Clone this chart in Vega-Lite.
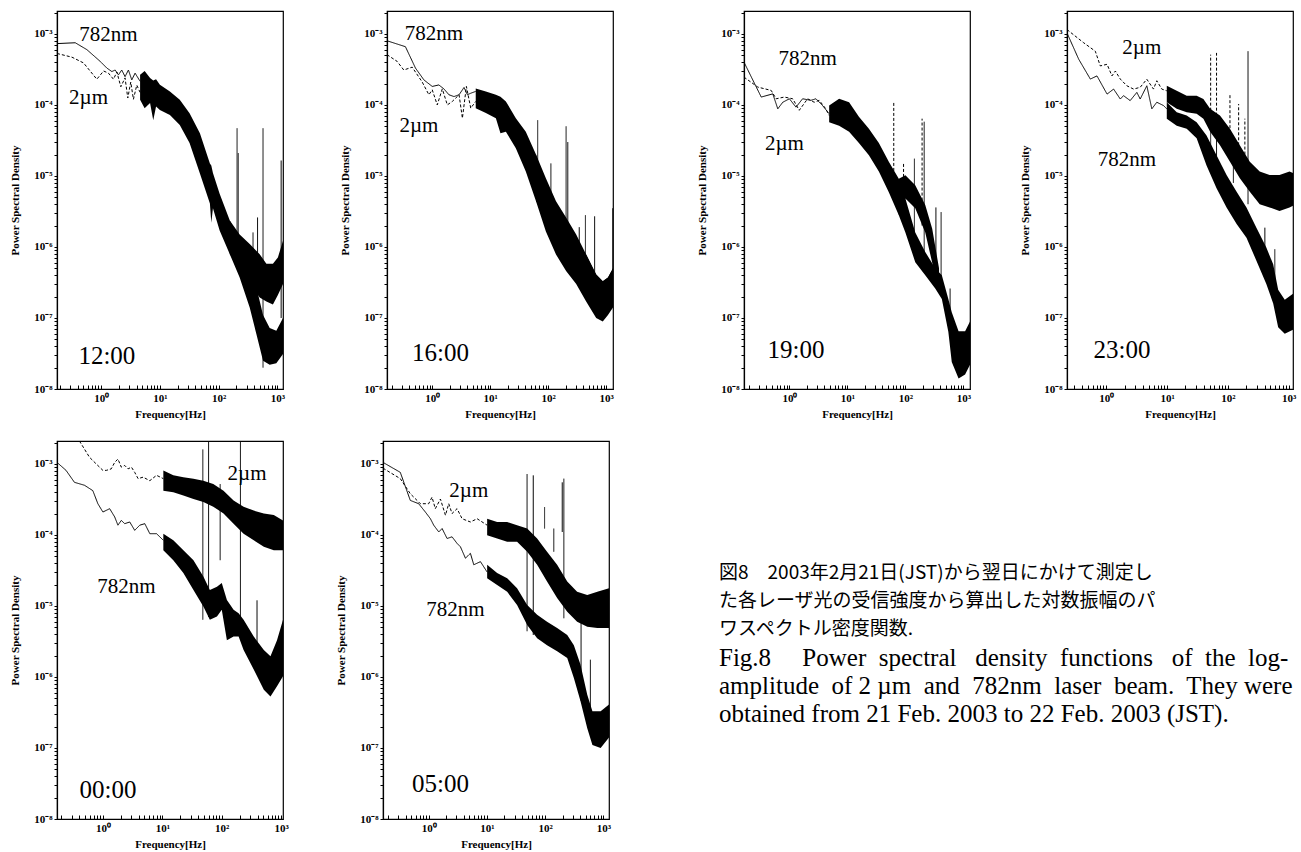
{
"$schema": "https://vega.github.io/schema/vega-lite/v6.json",
"background": "white",
"padding": {"left": 9, "top": 5, "right": 2, "bottom": 2},
"config": {
  "font": "Liberation Serif",
  "view": {"stroke": "black", "strokeWidth": 1.2},
  "axis": {"grid": false, "domainColor": "black", "domainWidth": 1.2, "tickColor": "black", "tickWidth": 1,
    "labelColor": "black", "labelFont": "Liberation Serif", "labelFontWeight": "bold", "labelFontSize": 11,
    "titleColor": "black", "titleFont": "Liberation Serif", "titleFontWeight": "bold", "titleFontSize": 11,
    "labelFlush": false, "labelOverlap": false},
  "axisX": {"tickSize": -4, "labelPadding": 7, "titlePadding": 5},
  "axisY": {"tickSize": 3, "labelPadding": 2, "titlePadding": 13}
},
"datasets": {
"lines": [
{"p":"12:00","s":"782nm","f":0.177,"psd":7.3e-4},{"p":"12:00","s":"782nm","f":0.362,"psd":7.5e-4},{"p":"12:00","s":"782nm","f":0.571,"psd":6.0e-4},{"p":"12:00","s":"782nm","f":0.962,"psd":4.1e-4},{"p":"12:00","s":"782nm","f":1.25,"psd":3.3e-4},{"p":"12:00","s":"782nm","f":1.52,"psd":2.95e-4},{"p":"12:00","s":"782nm","f":1.73,"psd":3.1e-4},{"p":"12:00","s":"782nm","f":1.97,"psd":2.65e-4},{"p":"12:00","s":"782nm","f":2.24,"psd":3.1e-4},{"p":"12:00","s":"782nm","f":2.55,"psd":2.5e-4},{"p":"12:00","s":"782nm","f":2.91,"psd":3.1e-4},{"p":"12:00","s":"782nm","f":3.32,"psd":2.25e-4},{"p":"12:00","s":"782nm","f":3.78,"psd":2.8e-4},{"p":"12:00","s":"782nm","f":4.6,"psd":2.15e-4},
{"p":"12:00","s":"2µm","f":0.177,"psd":5.3e-4},{"p":"12:00","s":"2µm","f":0.318,"psd":4.7e-4},{"p":"12:00","s":"2µm","f":0.501,"psd":3.9e-4},{"p":"12:00","s":"2µm","f":0.843,"psd":2.3e-4},{"p":"12:00","s":"2µm","f":1.1,"psd":3.0e-4},{"p":"12:00","s":"2µm","f":1.33,"psd":2.8e-4},{"p":"12:00","s":"2µm","f":1.62,"psd":2.3e-4},{"p":"12:00","s":"2µm","f":1.85,"psd":2.9e-4},{"p":"12:00","s":"2µm","f":2.16,"psd":1.8e-4},{"p":"12:00","s":"2µm","f":2.55,"psd":2.4e-4},{"p":"12:00","s":"2µm","f":2.84,"psd":1.25e-4},{"p":"12:00","s":"2µm","f":3.19,"psd":2.1e-4},{"p":"12:00","s":"2µm","f":3.54,"psd":1.2e-4},{"p":"12:00","s":"2µm","f":4.04,"psd":1.9e-4},{"p":"12:00","s":"2µm","f":4.6,"psd":1.5e-4},
{"p":"16:00","s":"782nm","f":0.166,"psd":8.0e-4},{"p":"16:00","s":"782nm","f":0.345,"psd":6.6e-4},{"p":"16:00","s":"782nm","f":0.514,"psd":3.3e-4},{"p":"16:00","s":"782nm","f":0.718,"psd":2.25e-4},{"p":"16:00","s":"782nm","f":1.0,"psd":1.82e-4},{"p":"16:00","s":"782nm","f":1.3,"psd":1.91e-4},{"p":"16:00","s":"782nm","f":1.59,"psd":1.68e-4},{"p":"16:00","s":"782nm","f":1.94,"psd":1.39e-4},{"p":"16:00","s":"782nm","f":2.37,"psd":1.31e-4},{"p":"16:00","s":"782nm","f":2.9,"psd":1.39e-4},{"p":"16:00","s":"782nm","f":3.53,"psd":1.76e-4},{"p":"16:00","s":"782nm","f":4.04,"psd":1.39e-4},{"p":"16:00","s":"782nm","f":4.61,"psd":1.46e-4},{"p":"16:00","s":"782nm","f":5.62,"psd":1.55e-4},
{"p":"16:00","s":"2µm","f":0.166,"psd":5.1e-4},{"p":"16:00","s":"2µm","f":0.248,"psd":4.1e-4},{"p":"16:00","s":"2µm","f":0.323,"psd":3.1e-4},{"p":"16:00","s":"2µm","f":0.451,"psd":3.4e-4},{"p":"16:00","s":"2µm","f":0.671,"psd":2.1e-4},{"p":"16:00","s":"2µm","f":0.875,"psd":1.39e-4},{"p":"16:00","s":"2µm","f":1.0,"psd":1.63e-4},{"p":"16:00","s":"2µm","f":1.22,"psd":1.0e-4},{"p":"16:00","s":"2µm","f":1.49,"psd":1.68e-4},{"p":"16:00","s":"2µm","f":1.82,"psd":1.0e-4},{"p":"16:00","s":"2µm","f":2.22,"psd":1.12e-4},{"p":"16:00","s":"2µm","f":2.9,"psd":1.39e-4},{"p":"16:00","s":"2µm","f":3.31,"psd":6.5e-5},{"p":"16:00","s":"2µm","f":3.88,"psd":1.82e-4},{"p":"16:00","s":"2µm","f":4.61,"psd":9.0e-5},{"p":"16:00","s":"2µm","f":5.62,"psd":1.12e-4},
{"p":"19:00","s":"782nm","f":0.165,"psd":4.0e-4},{"p":"19:00","s":"782nm","f":0.327,"psd":1.29e-4},{"p":"19:00","s":"782nm","f":0.518,"psd":1.43e-4},{"p":"19:00","s":"782nm","f":0.631,"psd":8.8e-5},{"p":"19:00","s":"782nm","f":0.769,"psd":1.09e-4},{"p":"19:00","s":"782nm","f":1.0,"psd":1.22e-4},{"p":"19:00","s":"782nm","f":1.3,"psd":9.3e-5},{"p":"19:00","s":"782nm","f":1.69,"psd":1.22e-4},{"p":"19:00","s":"782nm","f":2.35,"psd":1.16e-4},{"p":"19:00","s":"782nm","f":2.87,"psd":1.22e-4},{"p":"19:00","s":"782nm","f":3.73,"psd":9.8e-5},{"p":"19:00","s":"782nm","f":4.85,"psd":7.5e-5},
{"p":"19:00","s":"2µm","f":0.165,"psd":2.46e-4},{"p":"19:00","s":"2µm","f":0.286,"psd":1.78e-4},{"p":"19:00","s":"2µm","f":0.485,"psd":1.6e-4},{"p":"19:00","s":"2µm","f":0.591,"psd":1.22e-4},{"p":"19:00","s":"2µm","f":0.82,"psd":1.29e-4},{"p":"19:00","s":"2µm","f":1.14,"psd":1.22e-4},{"p":"19:00","s":"2µm","f":1.48,"psd":8.4e-5},{"p":"19:00","s":"2µm","f":2.06,"psd":1.22e-4},{"p":"19:00","s":"2µm","f":2.68,"psd":1.09e-4},{"p":"19:00","s":"2µm","f":3.27,"psd":1.16e-4},{"p":"19:00","s":"2µm","f":4.25,"psd":8.8e-5},{"p":"19:00","s":"2µm","f":4.85,"psd":7.1e-5},
{"p":"23:00","s":"2µm","f":0.226,"psd":1.15e-3},{"p":"23:00","s":"2µm","f":0.425,"psd":7.5e-4},{"p":"23:00","s":"2µm","f":0.66,"psd":5.7e-4},{"p":"23:00","s":"2µm","f":0.797,"psd":3.54e-4},{"p":"23:00","s":"2µm","f":1.03,"psd":3.73e-4},{"p":"23:00","s":"2µm","f":1.24,"psd":2.56e-4},{"p":"23:00","s":"2µm","f":1.41,"psd":3.0e-4},{"p":"23:00","s":"2µm","f":1.7,"psd":2.31e-4},{"p":"23:00","s":"2µm","f":2.18,"psd":1.86e-4},{"p":"23:00","s":"2µm","f":2.81,"psd":1.67e-4},{"p":"23:00","s":"2µm","f":3.61,"psd":1.77e-4},{"p":"23:00","s":"2µm","f":4.64,"psd":2.3e-4},{"p":"23:00","s":"2µm","f":5.97,"psd":1.67e-4},{"p":"23:00","s":"2µm","f":6.77,"psd":2.19e-4},{"p":"23:00","s":"2µm","f":8.18,"psd":1.67e-4},{"p":"23:00","s":"2µm","f":9.88,"psd":1.58e-4},
{"p":"23:00","s":"782nm","f":0.226,"psd":1.03e-3},{"p":"23:00","s":"782nm","f":0.352,"psd":4.4e-4},{"p":"23:00","s":"782nm","f":0.547,"psd":2.31e-4},{"p":"23:00","s":"782nm","f":0.703,"psd":2.56e-4},{"p":"23:00","s":"782nm","f":1.03,"psd":1.42e-4},{"p":"23:00","s":"782nm","f":1.32,"psd":1.67e-4},{"p":"23:00","s":"782nm","f":1.7,"psd":1.21e-4},{"p":"23:00","s":"782nm","f":1.92,"psd":1.35e-4},{"p":"23:00","s":"782nm","f":2.47,"psd":1.15e-4},{"p":"23:00","s":"782nm","f":3.18,"psd":1.5e-4},{"p":"23:00","s":"782nm","f":3.61,"psd":1.21e-4},{"p":"23:00","s":"782nm","f":4.64,"psd":1.86e-4},{"p":"23:00","s":"782nm","f":5.61,"psd":8.8e-5},{"p":"23:00","s":"782nm","f":6.77,"psd":1.09e-4},{"p":"23:00","s":"782nm","f":8.71,"psd":9.8e-5},{"p":"23:00","s":"782nm","f":9.88,"psd":8.8e-5},
{"p":"00:00","s":"2µm","f":0.169,"psd":4.0e-3},{"p":"00:00","s":"2µm","f":0.403,"psd":2.1e-3},{"p":"00:00","s":"2µm","f":0.595,"psd":1.24e-3},{"p":"00:00","s":"2µm","f":0.771,"psd":1.0e-3},{"p":"00:00","s":"2µm","f":1.0,"psd":8.1e-4},{"p":"00:00","s":"2µm","f":1.14,"psd":8.1e-4},{"p":"00:00","s":"2µm","f":1.38,"psd":8.5e-4},{"p":"00:00","s":"2µm","f":1.58,"psd":1.05e-3},{"p":"00:00","s":"2µm","f":1.79,"psd":1.17e-3},{"p":"00:00","s":"2µm","f":2.04,"psd":9.0e-4},{"p":"00:00","s":"2µm","f":2.33,"psd":9.5e-4},{"p":"00:00","s":"2µm","f":2.65,"psd":8.5e-4},{"p":"00:00","s":"2µm","f":3.02,"psd":9.0e-4},{"p":"00:00","s":"2µm","f":3.43,"psd":7.6e-4},{"p":"00:00","s":"2µm","f":3.91,"psd":6.2e-4},{"p":"00:00","s":"2µm","f":4.75,"psd":6.5e-4},{"p":"00:00","s":"2µm","f":6.16,"psd":5.8e-4},{"p":"00:00","s":"2µm","f":7.99,"psd":6.9e-4},{"p":"00:00","s":"2µm","f":10.4,"psd":6.2e-4},
{"p":"00:00","s":"782nm","f":0.169,"psd":1.05e-3},{"p":"00:00","s":"782nm","f":0.24,"psd":8.1e-4},{"p":"00:00","s":"782nm","f":0.332,"psd":5.5e-4},{"p":"00:00","s":"782nm","f":0.49,"psd":5.0e-4},{"p":"00:00","s":"782nm","f":0.677,"psd":4.2e-4},{"p":"00:00","s":"782nm","f":0.823,"psd":2.75e-4},{"p":"00:00","s":"782nm","f":1.0,"psd":2.1e-4},{"p":"00:00","s":"782nm","f":1.3,"psd":2.34e-4},{"p":"00:00","s":"782nm","f":1.58,"psd":1.79e-4},{"p":"00:00","s":"782nm","f":1.79,"psd":1.37e-4},{"p":"00:00","s":"782nm","f":2.04,"psd":1.6e-4},{"p":"00:00","s":"782nm","f":2.33,"psd":1.44e-4},{"p":"00:00","s":"782nm","f":2.83,"psd":1.52e-4},{"p":"00:00","s":"782nm","f":3.43,"psd":1.16e-4},{"p":"00:00","s":"782nm","f":4.17,"psd":1.37e-4},{"p":"00:00","s":"782nm","f":5.07,"psd":1.44e-4},{"p":"00:00","s":"782nm","f":6.16,"psd":1.04e-4},{"p":"00:00","s":"782nm","f":7.99,"psd":1.04e-4},{"p":"00:00","s":"782nm","f":10.4,"psd":8.4e-5},
{"p":"05:00","s":"782nm","f":0.164,"psd":1.05e-3},{"p":"05:00","s":"782nm","f":0.325,"psd":7.6e-4},{"p":"05:00","s":"782nm","f":0.483,"psd":3.06e-4},{"p":"05:00","s":"782nm","f":0.673,"psd":2.75e-4},{"p":"05:00","s":"782nm","f":0.876,"psd":2.1e-4},{"p":"05:00","s":"782nm","f":1.07,"psd":1.69e-4},{"p":"05:00","s":"782nm","f":1.22,"psd":1.37e-4},{"p":"05:00","s":"782nm","f":1.49,"psd":1.1e-4},{"p":"05:00","s":"782nm","f":1.7,"psd":1.23e-4},{"p":"05:00","s":"782nm","f":2.07,"psd":8.9e-5},{"p":"05:00","s":"782nm","f":2.52,"psd":9.4e-5},{"p":"05:00","s":"782nm","f":3.07,"psd":7.6e-5},{"p":"05:00","s":"782nm","f":3.51,"psd":6.8e-5},{"p":"05:00","s":"782nm","f":4.28,"psd":4.7e-5},{"p":"05:00","s":"782nm","f":5.21,"psd":5.5e-5},{"p":"05:00","s":"782nm","f":5.95,"psd":3.8e-5},{"p":"05:00","s":"782nm","f":7.75,"psd":4.2e-5},{"p":"05:00","s":"782nm","f":10.1,"psd":3.0e-5},
{"p":"05:00","s":"2µm","f":0.164,"psd":8.7e-4},{"p":"05:00","s":"2µm","f":0.325,"psd":6.2e-4},{"p":"05:00","s":"2µm","f":0.483,"psd":3.8e-4},{"p":"05:00","s":"2µm","f":0.719,"psd":2.75e-4},{"p":"05:00","s":"2µm","f":1.0,"psd":2.75e-4},{"p":"05:00","s":"2µm","f":1.14,"psd":3.4e-4},{"p":"05:00","s":"2µm","f":1.3,"psd":2.34e-4},{"p":"05:00","s":"2µm","f":1.59,"psd":3.2e-4},{"p":"05:00","s":"2µm","f":1.94,"psd":1.89e-4},{"p":"05:00","s":"2µm","f":2.21,"psd":2.75e-4},{"p":"05:00","s":"2µm","f":2.52,"psd":2.0e-4},{"p":"05:00","s":"2µm","f":3.07,"psd":2.34e-4},{"p":"05:00","s":"2µm","f":3.75,"psd":1.69e-4},{"p":"05:00","s":"2µm","f":5.21,"psd":1.52e-4},{"p":"05:00","s":"2µm","f":6.79,"psd":1.69e-4},{"p":"05:00","s":"2µm","f":10.1,"psd":1.37e-4}
],
"bands": [
{"p":"12:00","s":"782nm","f":4.6,"psd":1.18e-4,"psd2":2.66e-4},{"p":"12:00","s":"782nm","f":5.5,"psd":9.0e-5,"psd2":3.0e-4},{"p":"12:00","s":"782nm","f":6.8,"psd":1.06e-4,"psd2":2.4e-4},{"p":"12:00","s":"782nm","f":7.7,"psd":6.1e-5,"psd2":2.2e-4},{"p":"12:00","s":"782nm","f":8.6,"psd":9.5e-5,"psd2":2.3e-4},{"p":"12:00","s":"782nm","f":10,"psd":8.5e-5,"psd2":1.92e-4},{"p":"12:00","s":"782nm","f":14.8,"psd":7.2e-5,"psd2":1.55e-4},{"p":"12:00","s":"782nm","f":21.8,"psd":5.2e-5,"psd2":1.18e-4},{"p":"12:00","s":"782nm","f":32,"psd":2.9e-5,"psd2":7.6e-5},{"p":"12:00","s":"782nm","f":48,"psd":1.08e-5,"psd2":4.0e-5},{"p":"12:00","s":"782nm","f":71,"psd":4.1e-6,"psd2":1.5e-5},{"p":"12:00","s":"782nm","f":75,"psd":2.2e-6,"psd2":1.4e-5},{"p":"12:00","s":"782nm","f":80,"psd":3.5e-6,"psd2":1.1e-5},{"p":"12:00","s":"782nm","f":104,"psd":1.7e-6,"psd2":5.6e-6},{"p":"12:00","s":"782nm","f":155,"psd":7.9e-7,"psd2":2.35e-6},{"p":"12:00","s":"782nm","f":228,"psd":3.7e-7,"psd2":1.2e-6},{"p":"12:00","s":"782nm","f":338,"psd":1.4e-7,"psd2":5.2e-7},{"p":"12:00","s":"782nm","f":440,"psd":5.9e-8,"psd2":2.7e-7},{"p":"12:00","s":"782nm","f":570,"psd":2.5e-8,"psd2":1.1e-7},{"p":"12:00","s":"782nm","f":740,"psd":2.2e-8,"psd2":7.2e-8},{"p":"12:00","s":"782nm","f":960,"psd":2.3e-8,"psd2":6.6e-8},{"p":"12:00","s":"782nm","f":1247,"psd":3.1e-8,"psd2":1.0e-7},
{"p":"12:00","s":"2µm","f":155,"psd":7.9e-7,"psd2":2.35e-6},{"p":"12:00","s":"2µm","f":228,"psd":5.2e-7,"psd2":1.5e-6},{"p":"12:00","s":"2µm","f":338,"psd":3.0e-7,"psd2":1.1e-6},{"p":"12:00","s":"2µm","f":500,"psd":1.95e-7,"psd2":7.9e-7},{"p":"12:00","s":"2µm","f":650,"psd":1.7e-7,"psd2":5.8e-7},{"p":"12:00","s":"2µm","f":840,"psd":1.55e-7,"psd2":5.8e-7},{"p":"12:00","s":"2µm","f":1020,"psd":2.1e-7,"psd2":7.1e-7},{"p":"12:00","s":"2µm","f":1247,"psd":3.0e-7,"psd2":1.22e-6},
{"p":"16:00","s":"782nm","f":5.62,"psd":9e-5,"psd2":1.7e-4},{"p":"16:00","s":"782nm","f":8.4,"psd":7.7e-5,"psd2":1.55e-4},{"p":"16:00","s":"782nm","f":12.5,"psd":6.5e-5,"psd2":1.39e-4},{"p":"16:00","s":"782nm","f":15,"psd":4.0e-5,"psd2":1.3e-4},{"p":"16:00","s":"782nm","f":18.6,"psd":4.2e-5,"psd2":1.12e-4},{"p":"16:00","s":"782nm","f":27.6,"psd":2.45e-5,"psd2":6.5e-5},{"p":"16:00","s":"782nm","f":41,"psd":1.15e-5,"psd2":4.2e-5},{"p":"16:00","s":"782nm","f":61.5,"psd":4.4e-6,"psd2":2.0e-5},{"p":"16:00","s":"782nm","f":91,"psd":1.65e-6,"psd2":7e-6},{"p":"16:00","s":"782nm","f":136,"psd":7.8e-7,"psd2":3e-6},{"p":"16:00","s":"782nm","f":203,"psd":4.6e-7,"psd2":1.6e-6},{"p":"16:00","s":"782nm","f":303,"psd":3e-7,"psd2":1.1e-6},{"p":"16:00","s":"782nm","f":450,"psd":1.7e-7,"psd2":7.8e-7},{"p":"16:00","s":"782nm","f":670,"psd":1.0e-7,"psd2":4.1e-7},{"p":"16:00","s":"782nm","f":870,"psd":8.9e-8,"psd2":3.3e-7},{"p":"16:00","s":"782nm","f":1070,"psd":1.1e-7,"psd2":3.7e-7},{"p":"16:00","s":"782nm","f":1306,"psd":1.4e-7,"psd2":5e-7},
{"p":"16:00","s":"2µm","f":61.5,"psd":4.4e-6,"psd2":2.0e-5},{"p":"16:00","s":"2µm","f":91,"psd":3e-6,"psd2":9.3e-6},{"p":"16:00","s":"2µm","f":136,"psd":1.6e-6,"psd2":4.4e-6},{"p":"16:00","s":"2µm","f":203,"psd":9e-7,"psd2":2.6e-6},{"p":"16:00","s":"2µm","f":303,"psd":5e-7,"psd2":1.5e-6},{"p":"16:00","s":"2µm","f":450,"psd":2.2e-7,"psd2":7.8e-7},{"p":"16:00","s":"2µm","f":670,"psd":1.2e-7,"psd2":4.1e-7},{"p":"16:00","s":"2µm","f":870,"psd":1e-7,"psd2":3.3e-7},{"p":"16:00","s":"2µm","f":1070,"psd":1.2e-7,"psd2":3.7e-7},{"p":"16:00","s":"2µm","f":1306,"psd":1.5e-7,"psd2":5e-7},
{"p":"19:00","s":"782nm","f":4.85,"psd":5.7e-5,"psd2":9.8e-5},{"p":"19:00","s":"782nm","f":7.2,"psd":5.1e-5,"psd2":1.22e-4},{"p":"19:00","s":"782nm","f":10.7,"psd":4.2e-5,"psd2":1.09e-4},{"p":"19:00","s":"782nm","f":15.8,"psd":2.9e-5,"psd2":6.8e-5},{"p":"19:00","s":"782nm","f":23.5,"psd":1.95e-5,"psd2":4.6e-5},{"p":"19:00","s":"782nm","f":34.9,"psd":1.15e-5,"psd2":2.9e-5},{"p":"19:00","s":"782nm","f":51.8,"psd":5.9e-6,"psd2":1.58e-5},{"p":"19:00","s":"782nm","f":77,"psd":2.8e-6,"psd2":9.1e-6},{"p":"19:00","s":"782nm","f":100,"psd":1.6e-6,"psd2":4.8e-6},{"p":"19:00","s":"782nm","f":148,"psd":6.1e-7,"psd2":1.6e-6},{"p":"19:00","s":"782nm","f":220,"psd":4.0e-7,"psd2":8.5e-7},{"p":"19:00","s":"782nm","f":327,"psd":2.6e-7,"psd2":5.0e-7},{"p":"19:00","s":"782nm","f":425,"psd":1.85e-7,"psd2":4.0e-7},{"p":"19:00","s":"782nm","f":550,"psd":6.4e-8,"psd2":1.85e-7},{"p":"19:00","s":"782nm","f":630,"psd":2.4e-8,"psd2":1.2e-7},{"p":"19:00","s":"782nm","f":826,"psd":1.4e-8,"psd2":6.5e-8},{"p":"19:00","s":"782nm","f":1070,"psd":1.6e-8,"psd2":6.5e-8},{"p":"19:00","s":"782nm","f":1300,"psd":2.2e-8,"psd2":8.9e-8},
{"p":"19:00","s":"2µm","f":77,"psd":2.8e-6,"psd2":9.1e-6},{"p":"19:00","s":"2µm","f":100,"psd":4.8e-6,"psd2":1.02e-5},{"p":"19:00","s":"2µm","f":148,"psd":3.5e-6,"psd2":7.4e-6},{"p":"19:00","s":"2µm","f":220,"psd":1.6e-6,"psd2":3.9e-6},{"p":"19:00","s":"2µm","f":290,"psd":6e-7,"psd2":1.8e-6},{"p":"19:00","s":"2µm","f":380,"psd":2.5e-7,"psd2":5e-7},
{"p":"23:00","s":"2µm","f":9.88,"psd":1.09e-4,"psd2":1.86e-4},{"p":"23:00","s":"2µm","f":14.4,"psd":8.8e-5,"psd2":1.58e-4},{"p":"23:00","s":"2µm","f":21,"psd":7.9e-5,"psd2":1.35e-4},{"p":"23:00","s":"2µm","f":30.6,"psd":7.5e-5,"psd2":1.35e-4},{"p":"23:00","s":"2µm","f":39.5,"psd":6.4e-5,"psd2":1.21e-4},{"p":"23:00","s":"2µm","f":51,"psd":4.2e-5,"psd2":8.8e-5},{"p":"23:00","s":"2µm","f":74,"psd":2.7e-5,"psd2":7.1e-5},{"p":"23:00","s":"2µm","f":108,"psd":1.58e-5,"psd2":4.6e-5},{"p":"23:00","s":"2µm","f":157,"psd":9.3e-6,"psd2":2.7e-5},{"p":"23:00","s":"2µm","f":229,"psd":6.0e-6,"psd2":1.58e-5},{"p":"23:00","s":"2µm","f":333,"psd":4.0e-6,"psd2":1.15e-5},{"p":"23:00","s":"2µm","f":485,"psd":3.6e-6,"psd2":1.03e-5},{"p":"23:00","s":"2µm","f":705,"psd":3.2e-6,"psd2":1.03e-5},{"p":"23:00","s":"2µm","f":1030,"psd":3.6e-6,"psd2":1.15e-5},{"p":"23:00","s":"2µm","f":1175,"psd":3.8e-6,"psd2":1.1e-5},
{"p":"23:00","s":"782nm","f":9.88,"psd":6.4e-5,"psd2":1.09e-4},{"p":"23:00","s":"782nm","f":14.4,"psd":5.1e-5,"psd2":7.9e-5},{"p":"23:00","s":"782nm","f":21,"psd":4.6e-5,"psd2":7.1e-5},{"p":"23:00","s":"782nm","f":30.6,"psd":3.4e-5,"psd2":5.7e-5},{"p":"23:00","s":"782nm","f":44.5,"psd":1.4e-5,"psd2":3.7e-5},{"p":"23:00","s":"782nm","f":65,"psd":6.7e-6,"psd2":1.95e-5},{"p":"23:00","s":"782nm","f":95,"psd":3.6e-6,"psd2":1.03e-5},{"p":"23:00","s":"782nm","f":139,"psd":2.1e-6,"psd2":6.0e-6},{"p":"23:00","s":"782nm","f":202,"psd":1.35e-6,"psd2":3.6e-6},{"p":"23:00","s":"782nm","f":294,"psd":6.4e-7,"psd2":1.87e-6},{"p":"23:00","s":"782nm","f":428,"psd":3.0e-7,"psd2":9.8e-7},{"p":"23:00","s":"782nm","f":555,"psd":1.6e-7,"psd2":5.7e-7},{"p":"23:00","s":"782nm","f":670,"psd":7.4e-8,"psd2":2.5e-7},{"p":"23:00","s":"782nm","f":860,"psd":6.0e-8,"psd2":1.8e-7},{"p":"23:00","s":"782nm","f":1175,"psd":6.8e-8,"psd2":2.2e-7},
{"p":"00:00","s":"2µm","f":10.4,"psd":4.2e-4,"psd2":8.1e-4},{"p":"00:00","s":"2µm","f":15.3,"psd":4.0e-4,"psd2":6.9e-4},{"p":"00:00","s":"2µm","f":22.6,"psd":3.6e-4,"psd2":6.5e-4},{"p":"00:00","s":"2µm","f":33.4,"psd":3.2e-4,"psd2":6.2e-4},{"p":"00:00","s":"2µm","f":49,"psd":2.9e-4,"psd2":5.8e-4},{"p":"00:00","s":"2µm","f":72,"psd":2.5e-4,"psd2":5.2e-4},{"p":"00:00","s":"2µm","f":107,"psd":2.0e-4,"psd2":4.2e-4},{"p":"00:00","s":"2µm","f":158,"psd":1.44e-4,"psd2":3.06e-4},{"p":"00:00","s":"2µm","f":233,"psd":1.04e-4,"psd2":2.5e-4},{"p":"00:00","s":"2µm","f":345,"psd":8.4e-5,"psd2":2.2e-4},{"p":"00:00","s":"2µm","f":510,"psd":6.8e-5,"psd2":2.0e-4},{"p":"00:00","s":"2µm","f":750,"psd":6.1e-5,"psd2":1.9e-4},{"p":"00:00","s":"2µm","f":1072,"psd":6.1e-5,"psd2":1.6e-4},
{"p":"00:00","s":"782nm","f":10.4,"psd":6.1e-5,"psd2":1.04e-4},{"p":"00:00","s":"782nm","f":15.3,"psd":4.4e-5,"psd2":8.4e-5},{"p":"00:00","s":"782nm","f":22.6,"psd":2.9e-5,"psd2":6.1e-5},{"p":"00:00","s":"782nm","f":33.4,"psd":1.67e-5,"psd2":4.4e-5},{"p":"00:00","s":"782nm","f":49,"psd":9.8e-6,"psd2":2.6e-5},{"p":"00:00","s":"782nm","f":63,"psd":6.4e-6,"psd2":1.67e-5},{"p":"00:00","s":"782nm","f":83,"psd":7.1e-6,"psd2":1.86e-5},{"p":"00:00","s":"782nm","f":100,"psd":8.8e-6,"psd2":2.1e-5},{"p":"00:00","s":"782nm","f":122,"psd":3.3e-6,"psd2":1.21e-5},{"p":"00:00","s":"782nm","f":158,"psd":3.7e-6,"psd2":8.8e-6},{"p":"00:00","s":"782nm","f":192,"psd":3.7e-6,"psd2":7.9e-6},{"p":"00:00","s":"782nm","f":233,"psd":2.4e-6,"psd2":6.4e-6},{"p":"00:00","s":"782nm","f":345,"psd":1.27e-6,"psd2":3.7e-6},{"p":"00:00","s":"782nm","f":510,"psd":6.6e-7,"psd2":2.4e-6},{"p":"00:00","s":"782nm","f":660,"psd":5.3e-7,"psd2":1.95e-6},{"p":"00:00","s":"782nm","f":850,"psd":7.4e-7,"psd2":3.3e-6},{"p":"00:00","s":"782nm","f":1072,"psd":1.02e-6,"psd2":6.4e-6},
{"p":"05:00","s":"2µm","f":10.1,"psd":9.9e-5,"psd2":1.69e-4},{"p":"05:00","s":"2µm","f":15,"psd":8.9e-5,"psd2":1.52e-4},{"p":"05:00","s":"2µm","f":22.3,"psd":8.0e-5,"psd2":1.52e-4},{"p":"05:00","s":"2µm","f":33,"psd":8.0e-5,"psd2":1.37e-4},{"p":"05:00","s":"2µm","f":49.2,"psd":5.8e-5,"psd2":1.23e-4},{"p":"05:00","s":"2µm","f":73,"psd":3.8e-5,"psd2":8.9e-5},{"p":"05:00","s":"2µm","f":108,"psd":2.2e-5,"psd2":5.8e-5},{"p":"05:00","s":"2µm","f":161,"psd":1.29e-5,"psd2":3.8e-5},{"p":"05:00","s":"2µm","f":240,"psd":8.3e-6,"psd2":2.2e-5},{"p":"05:00","s":"2µm","f":355,"psd":6.0e-6,"psd2":1.58e-5},{"p":"05:00","s":"2µm","f":530,"psd":5.1e-6,"psd2":1.43e-5},{"p":"05:00","s":"2µm","f":790,"psd":4.9e-6,"psd2":1.58e-5},{"p":"05:00","s":"2µm","f":1253,"psd":4.9e-6,"psd2":1.78e-5},
{"p":"05:00","s":"782nm","f":10.1,"psd":2.45e-5,"psd2":3.8e-5},{"p":"05:00","s":"782nm","f":15,"psd":1.97e-5,"psd2":2.9e-5},{"p":"05:00","s":"782nm","f":22.3,"psd":1.58e-5,"psd2":2.45e-5},{"p":"05:00","s":"782nm","f":33,"psd":1.03e-5,"psd2":1.78e-5},{"p":"05:00","s":"782nm","f":49.2,"psd":5.4e-6,"psd2":1.03e-5},{"p":"05:00","s":"782nm","f":73,"psd":3.5e-6,"psd2":7.5e-6},{"p":"05:00","s":"782nm","f":108,"psd":2.8e-6,"psd2":6.0e-6},{"p":"05:00","s":"782nm","f":161,"psd":2.3e-6,"psd2":4.9e-6},{"p":"05:00","s":"782nm","f":240,"psd":1.85e-6,"psd2":3.9e-6},{"p":"05:00","s":"782nm","f":312,"psd":9.7e-7,"psd2":2.8e-6},{"p":"05:00","s":"782nm","f":405,"psd":4.6e-7,"psd2":1.5e-6},{"p":"05:00","s":"782nm","f":530,"psd":1.9e-7,"psd2":5.6e-7},{"p":"05:00","s":"782nm","f":650,"psd":1.1e-7,"psd2":3.3e-7},{"p":"05:00","s":"782nm","f":900,"psd":1.0e-7,"psd2":3.3e-7},{"p":"05:00","s":"782nm","f":1253,"psd":1.4e-7,"psd2":4.1e-7}
],
"spikes": [
{"p":"12:00","s":"782nm","f":206,"psd":1.5e-6,"psd2":4.7e-5},{"p":"12:00","s":"782nm","f":216,"psd":1.4e-6,"psd2":2.1e-5},{"p":"12:00","s":"782nm","f":385,"psd":5e-7,"psd2":1.6e-6},{"p":"12:00","s":"782nm","f":460,"psd":3e-7,"psd2":2.6e-6},{"p":"12:00","s":"782nm","f":570,"psd":2e-8,"psd2":4.7e-5},{"p":"12:00","s":"782nm","f":1160,"psd":1e-7,"psd2":1.65e-5},
{"p":"16:00","s":"782nm","f":65.7,"psd":1.5e-5,"psd2":6.1e-5},{"p":"16:00","s":"782nm","f":111,"psd":5e-6,"psd2":1.5e-5},{"p":"16:00","s":"782nm","f":203,"psd":1.5e-6,"psd2":5e-5},{"p":"16:00","s":"782nm","f":217,"psd":1.3e-6,"psd2":3e-5},{"p":"16:00","s":"782nm","f":342,"psd":7e-7,"psd2":1.9e-6},{"p":"16:00","s":"782nm","f":437,"psd":5e-7,"psd2":2.8e-6},{"p":"16:00","s":"782nm","f":630,"psd":3e-7,"psd2":2.7e-6},{"p":"16:00","s":"782nm","f":1290,"psd":4e-7,"psd2":3.5e-6},
{"p":"19:00","s":"2µm","f":63,"psd":1e-5,"psd2":1.1e-4},{"p":"19:00","s":"2µm","f":93,"psd":7e-6,"psd2":1.5e-5},{"p":"19:00","s":"2µm","f":194,"psd":2e-6,"psd2":6.4e-5},{"p":"19:00","s":"2µm","f":235,"psd":1.5e-6,"psd2":2.5e-6},{"p":"19:00","s":"782nm","f":143,"psd":1.2e-6,"psd2":1.75e-5},{"p":"19:00","s":"782nm","f":211,"psd":6e-7,"psd2":5.8e-5},{"p":"19:00","s":"782nm","f":336,"psd":3e-7,"psd2":3.6e-6},{"p":"19:00","s":"782nm","f":413,"psd":2.2e-7,"psd2":3.1e-6},{"p":"19:00","s":"782nm","f":590,"psd":8e-8,"psd2":2.6e-7},
{"p":"23:00","s":"2µm","f":52,"psd":6e-5,"psd2":5.1e-4},{"p":"23:00","s":"2µm","f":65,"psd":6e-5,"psd2":5.4e-4},{"p":"23:00","s":"2µm","f":108,"psd":4e-5,"psd2":1.42e-4},{"p":"23:00","s":"2µm","f":150,"psd":2.7e-5,"psd2":1.03e-4},{"p":"23:00","s":"2µm","f":190,"psd":2e-5,"psd2":6.4e-5},{"p":"23:00","s":"782nm","f":214,"psd":4e-6,"psd2":5.7e-4},{"p":"23:00","s":"782nm","f":52,"psd":1.4e-5,"psd2":8.8e-5},{"p":"23:00","s":"782nm","f":65,"psd":7e-6,"psd2":7e-5},{"p":"23:00","s":"782nm","f":123,"psd":8e-6,"psd2":2e-5},{"p":"23:00","s":"782nm","f":405,"psd":7e-7,"psd2":1.87e-6},{"p":"23:00","s":"782nm","f":590,"psd":2e-7,"psd2":9.3e-7},
{"p":"00:00","s":"782nm","f":48,"psd":6.4e-6,"psd2":1.6e-3},{"p":"00:00","s":"782nm","f":60,"psd":7e-6,"psd2":5e-3},{"p":"00:00","s":"782nm","f":94,"psd":4.4e-5,"psd2":5.2e-4},{"p":"00:00","s":"782nm","f":206,"psd":4.6e-6,"psd2":5e-3},{"p":"00:00","s":"782nm","f":392,"psd":2.4e-6,"psd2":1.2e-5},
{"p":"05:00","s":"782nm","f":49,"psd":4.4e-6,"psd2":7.2e-4},{"p":"05:00","s":"782nm","f":62.6,"psd":3.9e-6,"psd2":6.9e-4},{"p":"05:00","s":"782nm","f":98,"psd":1.23e-4,"psd2":2.47e-4},{"p":"05:00","s":"782nm","f":141,"psd":5.8e-5,"psd2":1.23e-4},{"p":"05:00","s":"782nm","f":197,"psd":1.1e-4,"psd2":5.5e-4},{"p":"05:00","s":"782nm","f":210,"psd":6.7e-6,"psd2":6.2e-4},{"p":"05:00","s":"782nm","f":415,"psd":4.6e-7,"psd2":1.03e-5},{"p":"05:00","s":"782nm","f":600,"psd":3.3e-7,"psd2":1.75e-6}
],
"labels": [
{"p":"12:00","k":"s","t":"782nm","f":1.33,"psd":9.8e-4},{"p":"12:00","k":"s","t":"2µm","f":0.61,"psd":1.24e-4},{"p":"12:00","k":"t","t":"12:00","f":1.25,"psd":2.9e-8},
{"p":"16:00","k":"s","t":"782nm","f":1.07,"psd":1.0e-3},{"p":"16:00","k":"s","t":"2µm","f":0.59,"psd":5.0e-5},{"p":"16:00","k":"t","t":"16:00","f":1.39,"psd":3.2e-8},
{"p":"19:00","k":"s","t":"782nm","f":2.06,"psd":4.45e-4},{"p":"19:00","k":"s","t":"2µm","f":0.82,"psd":2.8e-5},{"p":"19:00","k":"t","t":"19:00","f":1.3,"psd":3.5e-8},
{"p":"23:00","k":"s","t":"2µm","f":3.84,"psd":6.4e-4},{"p":"23:00","k":"s","t":"782nm","f":2.18,"psd":1.67e-5},{"p":"23:00","k":"t","t":"23:00","f":1.81,"psd":3.5e-8},
{"p":"00:00","k":"s","t":"2µm","f":266,"psd":7.3e-4},{"p":"00:00","k":"s","t":"782nm","f":2.48,"psd":1.86e-5},{"p":"00:00","k":"t","t":"00:00","f":1.22,"psd":2.6e-8},
{"p":"05:00","k":"s","t":"2µm","f":4.88,"psd":4.2e-4},{"p":"05:00","k":"s","t":"782nm","f":2.88,"psd":8.8e-6},{"p":"05:00","k":"t","t":"05:00","f":1.59,"psd":3.1e-8}
],
"caption": [
{"line":1,"lang":"ja","text":"図8　2003年2月21日(JST)から翌日にかけて測定し"},
{"line":2,"lang":"ja","text":"た各レーザ光の受信強度から算出した対数振幅のパ"},
{"line":3,"lang":"ja","text":"ワスペクトル密度関数."},
{"line":4,"lang":"en","text":"Fig.8\u00a0\u00a0\u00a0\u00a0 Power\u00a0 spectral\u00a0\u00a0 density\u00a0 functions\u00a0\u00a0 of\u00a0 the\u00a0 log-"},
{"line":5,"lang":"en","text":"amplitude\u00a0 of 2 µm\u00a0 and\u00a0 782nm\u00a0 laser\u00a0 beam.\u00a0 They were"},
{"line":6,"lang":"en","text":"obtained from 21 Feb. 2003 to 22 Feb. 2003 (JST)."}
]
},
"spacing": 15,
"vconcat": [
{"spacing": 81, "hconcat": [
 {"spacing": 53, "hconcat": [
  {"width": 226, "height": 378,
   "encoding": {
    "x": {"field": "f", "type": "quantitative", "scale": {"type": "log", "domain": [0.177, 1247], "nice": false}, "axis": {"title": "Frequency[Hz]", "values": [0.2,0.3,0.4,0.5,0.6,0.7,0.8,0.9,1,2,3,4,5,6,7,8,9,10,20,30,40,50,60,70,80,90,100,200,300,400,500,600,700,800,900,1000], "labelExpr": "datum.value == 1 ? '10⁰' : datum.value == 10 ? '10¹' : datum.value == 100 ? '10²' : datum.value == 1000 ? '10³' : ''"}},
    "y": {"field": "psd", "type": "quantitative", "scale": {"type": "log", "domain": [1e-8, 2.1e-3], "nice": false}, "axis": {"title": "Power Spectral Density", "values": [1e-8,2e-8,3e-8,4e-8,5e-8,6e-8,7e-8,8e-8,9e-8,1e-7,2e-7,3e-7,4e-7,5e-7,6e-7,7e-7,8e-7,9e-7,1e-6,2e-6,3e-6,4e-6,5e-6,6e-6,7e-6,8e-6,9e-6,1e-5,2e-5,3e-5,4e-5,5e-5,6e-5,7e-5,8e-5,9e-5,1e-4,2e-4,3e-4,4e-4,5e-4,6e-4,7e-4,8e-4,9e-4,1e-3,2e-3], "labelExpr": "datum.value == 1e-3 ? '10⁻³' : datum.value == 1e-4 ? '10⁻⁴' : datum.value == 1e-5 ? '10⁻⁵' : datum.value == 1e-6 ? '10⁻⁶' : datum.value == 1e-7 ? '10⁻⁷' : datum.value == 1e-8 ? '10⁻⁸' : ''"}}
   },
   "layer": [
    {"data": {"name": "bands"}, "transform": [{"filter": "datum.p == '12:00'"}], "mark": {"type": "area", "color": "black", "opacity": 1, "clip": true}, "encoding": {"y2": {"field": "psd2"}, "detail": {"field": "s", "type": "nominal"}}},
    {"data": {"name": "lines"}, "transform": [{"filter": "datum.p == '12:00'"}], "mark": {"type": "line", "color": "black", "strokeWidth": 1, "clip": true}, "encoding": {"strokeDash": {"field": "s", "type": "nominal", "scale": {"domain": ["782nm", "2µm"], "range": [[1, 0], [3, 2]]}, "legend": null}}},
    {"data": {"name": "spikes"}, "transform": [{"filter": "datum.p == '12:00'"}], "mark": {"type": "rule", "color": "black", "strokeWidth": 1, "clip": true}, "encoding": {"y2": {"field": "psd2"}, "strokeDash": {"field": "s", "type": "nominal", "scale": {"domain": ["782nm", "2µm"], "range": [[1, 0], [3, 2]]}, "legend": null}}},
    {"data": {"name": "labels"}, "transform": [{"filter": "datum.p == '12:00' && datum.k == 's'"}], "mark": {"type": "text", "font": "Liberation Serif", "fontSize": 21, "color": "black"}, "encoding": {"text": {"field": "t"}}},
    {"data": {"name": "labels"}, "transform": [{"filter": "datum.p == '12:00' && datum.k == 't'"}], "mark": {"type": "text", "font": "Liberation Serif", "fontSize": 25, "color": "black"}, "encoding": {"text": {"field": "t"}}}
   ]},
  {"width": 226, "height": 378,
   "encoding": {
    "x": {"field": "f", "type": "quantitative", "scale": {"type": "log", "domain": [0.166, 1306], "nice": false}, "axis": {"title": "Frequency[Hz]", "values": [0.2,0.3,0.4,0.5,0.6,0.7,0.8,0.9,1,2,3,4,5,6,7,8,9,10,20,30,40,50,60,70,80,90,100,200,300,400,500,600,700,800,900,1000], "labelExpr": "datum.value == 1 ? '10⁰' : datum.value == 10 ? '10¹' : datum.value == 100 ? '10²' : datum.value == 1000 ? '10³' : ''"}},
    "y": {"field": "psd", "type": "quantitative", "scale": {"type": "log", "domain": [1e-8, 2.1e-3], "nice": false}, "axis": {"title": "Power Spectral Density", "values": [1e-8,2e-8,3e-8,4e-8,5e-8,6e-8,7e-8,8e-8,9e-8,1e-7,2e-7,3e-7,4e-7,5e-7,6e-7,7e-7,8e-7,9e-7,1e-6,2e-6,3e-6,4e-6,5e-6,6e-6,7e-6,8e-6,9e-6,1e-5,2e-5,3e-5,4e-5,5e-5,6e-5,7e-5,8e-5,9e-5,1e-4,2e-4,3e-4,4e-4,5e-4,6e-4,7e-4,8e-4,9e-4,1e-3,2e-3], "labelExpr": "datum.value == 1e-3 ? '10⁻³' : datum.value == 1e-4 ? '10⁻⁴' : datum.value == 1e-5 ? '10⁻⁵' : datum.value == 1e-6 ? '10⁻⁶' : datum.value == 1e-7 ? '10⁻⁷' : datum.value == 1e-8 ? '10⁻⁸' : ''"}}
   },
   "layer": [
    {"data": {"name": "bands"}, "transform": [{"filter": "datum.p == '16:00'"}], "mark": {"type": "area", "color": "black", "opacity": 1, "clip": true}, "encoding": {"y2": {"field": "psd2"}, "detail": {"field": "s", "type": "nominal"}}},
    {"data": {"name": "lines"}, "transform": [{"filter": "datum.p == '16:00'"}], "mark": {"type": "line", "color": "black", "strokeWidth": 1, "clip": true}, "encoding": {"strokeDash": {"field": "s", "type": "nominal", "scale": {"domain": ["782nm", "2µm"], "range": [[1, 0], [3, 2]]}, "legend": null}}},
    {"data": {"name": "spikes"}, "transform": [{"filter": "datum.p == '16:00'"}], "mark": {"type": "rule", "color": "black", "strokeWidth": 1, "clip": true}, "encoding": {"y2": {"field": "psd2"}, "strokeDash": {"field": "s", "type": "nominal", "scale": {"domain": ["782nm", "2µm"], "range": [[1, 0], [3, 2]]}, "legend": null}}},
    {"data": {"name": "labels"}, "transform": [{"filter": "datum.p == '16:00' && datum.k == 's'"}], "mark": {"type": "text", "font": "Liberation Serif", "fontSize": 21, "color": "black"}, "encoding": {"text": {"field": "t"}}},
    {"data": {"name": "labels"}, "transform": [{"filter": "datum.p == '16:00' && datum.k == 't'"}], "mark": {"type": "text", "font": "Liberation Serif", "fontSize": 25, "color": "black"}, "encoding": {"text": {"field": "t"}}}
   ]}
 ]},
 {"spacing": 47, "hconcat": [
  {"width": 226, "height": 378,
   "encoding": {
    "x": {"field": "f", "type": "quantitative", "scale": {"type": "log", "domain": [0.165, 1300], "nice": false}, "axis": {"title": "Frequency[Hz]", "values": [0.2,0.3,0.4,0.5,0.6,0.7,0.8,0.9,1,2,3,4,5,6,7,8,9,10,20,30,40,50,60,70,80,90,100,200,300,400,500,600,700,800,900,1000], "labelExpr": "datum.value == 1 ? '10⁰' : datum.value == 10 ? '10¹' : datum.value == 100 ? '10²' : datum.value == 1000 ? '10³' : ''"}},
    "y": {"field": "psd", "type": "quantitative", "scale": {"type": "log", "domain": [1e-8, 2.1e-3], "nice": false}, "axis": {"title": "Power Spectral Density", "values": [1e-8,2e-8,3e-8,4e-8,5e-8,6e-8,7e-8,8e-8,9e-8,1e-7,2e-7,3e-7,4e-7,5e-7,6e-7,7e-7,8e-7,9e-7,1e-6,2e-6,3e-6,4e-6,5e-6,6e-6,7e-6,8e-6,9e-6,1e-5,2e-5,3e-5,4e-5,5e-5,6e-5,7e-5,8e-5,9e-5,1e-4,2e-4,3e-4,4e-4,5e-4,6e-4,7e-4,8e-4,9e-4,1e-3,2e-3], "labelExpr": "datum.value == 1e-3 ? '10⁻³' : datum.value == 1e-4 ? '10⁻⁴' : datum.value == 1e-5 ? '10⁻⁵' : datum.value == 1e-6 ? '10⁻⁶' : datum.value == 1e-7 ? '10⁻⁷' : datum.value == 1e-8 ? '10⁻⁸' : ''"}}
   },
   "layer": [
    {"data": {"name": "bands"}, "transform": [{"filter": "datum.p == '19:00'"}], "mark": {"type": "area", "color": "black", "opacity": 1, "clip": true}, "encoding": {"y2": {"field": "psd2"}, "detail": {"field": "s", "type": "nominal"}}},
    {"data": {"name": "lines"}, "transform": [{"filter": "datum.p == '19:00'"}], "mark": {"type": "line", "color": "black", "strokeWidth": 1, "clip": true}, "encoding": {"strokeDash": {"field": "s", "type": "nominal", "scale": {"domain": ["782nm", "2µm"], "range": [[1, 0], [3, 2]]}, "legend": null}}},
    {"data": {"name": "spikes"}, "transform": [{"filter": "datum.p == '19:00'"}], "mark": {"type": "rule", "color": "black", "strokeWidth": 1, "clip": true}, "encoding": {"y2": {"field": "psd2"}, "strokeDash": {"field": "s", "type": "nominal", "scale": {"domain": ["782nm", "2µm"], "range": [[1, 0], [3, 2]]}, "legend": null}}},
    {"data": {"name": "labels"}, "transform": [{"filter": "datum.p == '19:00' && datum.k == 's'"}], "mark": {"type": "text", "font": "Liberation Serif", "fontSize": 21, "color": "black"}, "encoding": {"text": {"field": "t"}}},
    {"data": {"name": "labels"}, "transform": [{"filter": "datum.p == '19:00' && datum.k == 't'"}], "mark": {"type": "text", "font": "Liberation Serif", "fontSize": 25, "color": "black"}, "encoding": {"text": {"field": "t"}}}
   ]},
  {"width": 226, "height": 378,
   "encoding": {
    "x": {"field": "f", "type": "quantitative", "scale": {"type": "log", "domain": [0.226, 1175], "nice": false}, "axis": {"title": "Frequency[Hz]", "values": [0.3,0.4,0.5,0.6,0.7,0.8,0.9,1,2,3,4,5,6,7,8,9,10,20,30,40,50,60,70,80,90,100,200,300,400,500,600,700,800,900,1000], "labelExpr": "datum.value == 1 ? '10⁰' : datum.value == 10 ? '10¹' : datum.value == 100 ? '10²' : datum.value == 1000 ? '10³' : ''"}},
    "y": {"field": "psd", "type": "quantitative", "scale": {"type": "log", "domain": [1e-8, 2.1e-3], "nice": false}, "axis": {"title": "Power Spectral Density", "values": [1e-8,2e-8,3e-8,4e-8,5e-8,6e-8,7e-8,8e-8,9e-8,1e-7,2e-7,3e-7,4e-7,5e-7,6e-7,7e-7,8e-7,9e-7,1e-6,2e-6,3e-6,4e-6,5e-6,6e-6,7e-6,8e-6,9e-6,1e-5,2e-5,3e-5,4e-5,5e-5,6e-5,7e-5,8e-5,9e-5,1e-4,2e-4,3e-4,4e-4,5e-4,6e-4,7e-4,8e-4,9e-4,1e-3,2e-3], "labelExpr": "datum.value == 1e-3 ? '10⁻³' : datum.value == 1e-4 ? '10⁻⁴' : datum.value == 1e-5 ? '10⁻⁵' : datum.value == 1e-6 ? '10⁻⁶' : datum.value == 1e-7 ? '10⁻⁷' : datum.value == 1e-8 ? '10⁻⁸' : ''"}}
   },
   "layer": [
    {"data": {"name": "bands"}, "transform": [{"filter": "datum.p == '23:00'"}], "mark": {"type": "area", "color": "black", "opacity": 1, "clip": true}, "encoding": {"y2": {"field": "psd2"}, "detail": {"field": "s", "type": "nominal"}}},
    {"data": {"name": "lines"}, "transform": [{"filter": "datum.p == '23:00'"}], "mark": {"type": "line", "color": "black", "strokeWidth": 1, "clip": true}, "encoding": {"strokeDash": {"field": "s", "type": "nominal", "scale": {"domain": ["782nm", "2µm"], "range": [[1, 0], [3, 2]]}, "legend": null}}},
    {"data": {"name": "spikes"}, "transform": [{"filter": "datum.p == '23:00'"}], "mark": {"type": "rule", "color": "black", "strokeWidth": 1, "clip": true}, "encoding": {"y2": {"field": "psd2"}, "strokeDash": {"field": "s", "type": "nominal", "scale": {"domain": ["782nm", "2µm"], "range": [[1, 0], [3, 2]]}, "legend": null}}},
    {"data": {"name": "labels"}, "transform": [{"filter": "datum.p == '23:00' && datum.k == 's'"}], "mark": {"type": "text", "font": "Liberation Serif", "fontSize": 21, "color": "black"}, "encoding": {"text": {"field": "t"}}},
    {"data": {"name": "labels"}, "transform": [{"filter": "datum.p == '23:00' && datum.k == 't'"}], "mark": {"type": "text", "font": "Liberation Serif", "fontSize": 25, "color": "black"}, "encoding": {"text": {"field": "t"}}}
   ]}
 ]}
]},
{"spacing": 107, "hconcat": [
 {"spacing": 46, "hconcat": [
  {"width": 226, "height": 378,
   "encoding": {
    "x": {"field": "f", "type": "quantitative", "scale": {"type": "log", "domain": [0.169, 1072], "nice": false}, "axis": {"title": "Frequency[Hz]", "values": [0.2,0.3,0.4,0.5,0.6,0.7,0.8,0.9,1,2,3,4,5,6,7,8,9,10,20,30,40,50,60,70,80,90,100,200,300,400,500,600,700,800,900,1000], "labelExpr": "datum.value == 1 ? '10⁰' : datum.value == 10 ? '10¹' : datum.value == 100 ? '10²' : datum.value == 1000 ? '10³' : ''"}},
    "y": {"field": "psd", "type": "quantitative", "scale": {"type": "log", "domain": [1e-8, 2.1e-3], "nice": false}, "axis": {"title": "Power Spectral Density", "values": [1e-8,2e-8,3e-8,4e-8,5e-8,6e-8,7e-8,8e-8,9e-8,1e-7,2e-7,3e-7,4e-7,5e-7,6e-7,7e-7,8e-7,9e-7,1e-6,2e-6,3e-6,4e-6,5e-6,6e-6,7e-6,8e-6,9e-6,1e-5,2e-5,3e-5,4e-5,5e-5,6e-5,7e-5,8e-5,9e-5,1e-4,2e-4,3e-4,4e-4,5e-4,6e-4,7e-4,8e-4,9e-4,1e-3,2e-3], "labelExpr": "datum.value == 1e-3 ? '10⁻³' : datum.value == 1e-4 ? '10⁻⁴' : datum.value == 1e-5 ? '10⁻⁵' : datum.value == 1e-6 ? '10⁻⁶' : datum.value == 1e-7 ? '10⁻⁷' : datum.value == 1e-8 ? '10⁻⁸' : ''"}}
   },
   "layer": [
    {"data": {"name": "bands"}, "transform": [{"filter": "datum.p == '00:00'"}], "mark": {"type": "area", "color": "black", "opacity": 1, "clip": true}, "encoding": {"y2": {"field": "psd2"}, "detail": {"field": "s", "type": "nominal"}}},
    {"data": {"name": "lines"}, "transform": [{"filter": "datum.p == '00:00'"}], "mark": {"type": "line", "color": "black", "strokeWidth": 1, "clip": true}, "encoding": {"strokeDash": {"field": "s", "type": "nominal", "scale": {"domain": ["782nm", "2µm"], "range": [[1, 0], [3, 2]]}, "legend": null}}},
    {"data": {"name": "spikes"}, "transform": [{"filter": "datum.p == '00:00'"}], "mark": {"type": "rule", "color": "black", "strokeWidth": 1, "clip": true}, "encoding": {"y2": {"field": "psd2"}, "strokeDash": {"field": "s", "type": "nominal", "scale": {"domain": ["782nm", "2µm"], "range": [[1, 0], [3, 2]]}, "legend": null}}},
    {"data": {"name": "labels"}, "transform": [{"filter": "datum.p == '00:00' && datum.k == 's'"}], "mark": {"type": "text", "font": "Liberation Serif", "fontSize": 21, "color": "black"}, "encoding": {"text": {"field": "t"}}},
    {"data": {"name": "labels"}, "transform": [{"filter": "datum.p == '00:00' && datum.k == 't'"}], "mark": {"type": "text", "font": "Liberation Serif", "fontSize": 25, "color": "black"}, "encoding": {"text": {"field": "t"}}}
   ]},
  {"width": 226, "height": 378,
   "encoding": {
    "x": {"field": "f", "type": "quantitative", "scale": {"type": "log", "domain": [0.164, 1253], "nice": false}, "axis": {"title": "Frequency[Hz]", "values": [0.2,0.3,0.4,0.5,0.6,0.7,0.8,0.9,1,2,3,4,5,6,7,8,9,10,20,30,40,50,60,70,80,90,100,200,300,400,500,600,700,800,900,1000], "labelExpr": "datum.value == 1 ? '10⁰' : datum.value == 10 ? '10¹' : datum.value == 100 ? '10²' : datum.value == 1000 ? '10³' : ''"}},
    "y": {"field": "psd", "type": "quantitative", "scale": {"type": "log", "domain": [1e-8, 2.1e-3], "nice": false}, "axis": {"title": "Power Spectral Density", "values": [1e-8,2e-8,3e-8,4e-8,5e-8,6e-8,7e-8,8e-8,9e-8,1e-7,2e-7,3e-7,4e-7,5e-7,6e-7,7e-7,8e-7,9e-7,1e-6,2e-6,3e-6,4e-6,5e-6,6e-6,7e-6,8e-6,9e-6,1e-5,2e-5,3e-5,4e-5,5e-5,6e-5,7e-5,8e-5,9e-5,1e-4,2e-4,3e-4,4e-4,5e-4,6e-4,7e-4,8e-4,9e-4,1e-3,2e-3], "labelExpr": "datum.value == 1e-3 ? '10⁻³' : datum.value == 1e-4 ? '10⁻⁴' : datum.value == 1e-5 ? '10⁻⁵' : datum.value == 1e-6 ? '10⁻⁶' : datum.value == 1e-7 ? '10⁻⁷' : datum.value == 1e-8 ? '10⁻⁸' : ''"}}
   },
   "layer": [
    {"data": {"name": "bands"}, "transform": [{"filter": "datum.p == '05:00'"}], "mark": {"type": "area", "color": "black", "opacity": 1, "clip": true}, "encoding": {"y2": {"field": "psd2"}, "detail": {"field": "s", "type": "nominal"}}},
    {"data": {"name": "lines"}, "transform": [{"filter": "datum.p == '05:00'"}], "mark": {"type": "line", "color": "black", "strokeWidth": 1, "clip": true}, "encoding": {"strokeDash": {"field": "s", "type": "nominal", "scale": {"domain": ["782nm", "2µm"], "range": [[1, 0], [3, 2]]}, "legend": null}}},
    {"data": {"name": "spikes"}, "transform": [{"filter": "datum.p == '05:00'"}], "mark": {"type": "rule", "color": "black", "strokeWidth": 1, "clip": true}, "encoding": {"y2": {"field": "psd2"}, "strokeDash": {"field": "s", "type": "nominal", "scale": {"domain": ["782nm", "2µm"], "range": [[1, 0], [3, 2]]}, "legend": null}}},
    {"data": {"name": "labels"}, "transform": [{"filter": "datum.p == '05:00' && datum.k == 's'"}], "mark": {"type": "text", "font": "Liberation Serif", "fontSize": 21, "color": "black"}, "encoding": {"text": {"field": "t"}}},
    {"data": {"name": "labels"}, "transform": [{"filter": "datum.p == '05:00' && datum.k == 't'"}], "mark": {"type": "text", "font": "Liberation Serif", "fontSize": 25, "color": "black"}, "encoding": {"text": {"field": "t"}}}
   ]}
 ]},
 {"width": 580, "height": 378, "view": {"stroke": null},
  "data": {"name": "caption"},
  "encoding": {"y": {"field": "line", "type": "quantitative", "scale": {"domain": [-3.68, 9.72], "reverse": true, "nice": false, "zero": false}, "axis": null}, "x": {"value": 0}, "text": {"field": "text"}},
  "layer": [
   {"transform": [{"filter": "datum.lang == 'ja'"}], "mark": {"type": "text", "font": "Noto Sans CJK JP", "fontSize": 19, "align": "left", "baseline": "middle", "color": "black"}},
   {"transform": [{"filter": "datum.lang == 'en'"}], "mark": {"type": "text", "font": "Liberation Serif", "fontSize": 25, "align": "left", "baseline": "middle", "color": "black"}}
  ]}
]}
]
}
